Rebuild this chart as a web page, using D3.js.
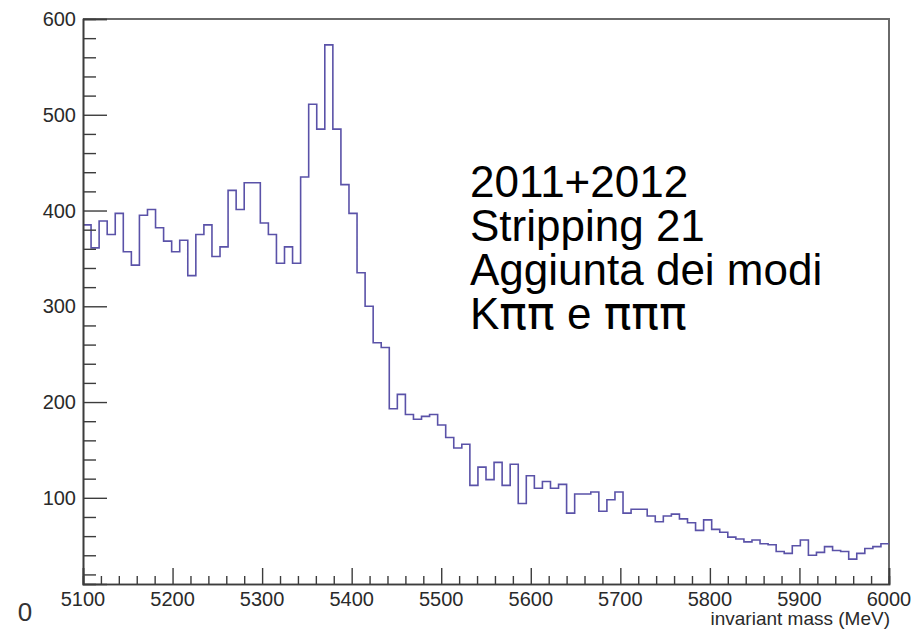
<!DOCTYPE html>
<html>
<head>
<meta charset="utf-8">
<script src="https://cdn.jsdelivr.net/npm/d3@7"></script>
<style>
  html, body { margin: 0; padding: 0; background: #fff; }
  svg { display: block; }
  text { font-family: "Liberation Sans", Arial, Helvetica, sans-serif; }
</style>
</head>
<body>
<svg id="chart" width="922" height="637"></svg>
<script>
// Histogram: 100 bins of 9 MeV from 5100 to 6000 MeV
const binLow = 5100;
const binHigh = 6000;
const counts = [
  385, 361, 389, 375, 397, 357, 343, 395, 401, 382,
  368, 357, 369, 332, 375, 385, 352, 362, 421, 401,
  429, 429, 387, 375, 345, 362, 345, 435, 511, 485,
  573, 485, 427, 397, 335, 300, 262, 257, 193, 208,
  187, 182, 185, 187, 176, 163, 152, 156, 113, 132,
  119, 137, 113, 135, 94, 123, 110, 117, 110, 114,
  84, 104, 104, 106, 86, 98, 106, 84, 88, 88,
  81, 75, 81, 83, 78, 74, 66, 77, 67, 64,
  59, 57, 54, 56, 52, 51, 44, 42, 50, 56,
  40, 43, 49, 45, 44, 36, 42, 47, 49, 52
];

const xMajorTicks = [5100, 5200, 5300, 5400, 5500, 5600, 5700, 5800, 5900, 6000];
const yMajorTicks = [100, 200, 300, 400, 500, 600];
const yRange = [10, 600];

const annotation = ["2011+2012", "Stripping 21", "Aggiunta dei modi", "Kππ e πππ"];
const xTitle = "invariant mass (MeV)";

const svg = d3.select("#chart");
const frame = { left: 83, right: 889, top: 19, bottom: 584 };

const x = d3.scaleLinear().domain([binLow, binHigh]).range([frame.left, frame.right]);
const y = d3.scaleLinear().domain(yRange).range([frame.bottom, frame.top]);

const binWidth = (binHigh - binLow) / counts.length;

// Frame: top and right edges
svg.append("path")
  .attr("d", `M${frame.left},${frame.top}H${frame.right}V${frame.bottom}`)
  .attr("fill", "none")
  .attr("stroke", "#6a6a6a")
  .attr("stroke-width", 2);

// Step outline of the histogram
const pts = counts.map((c, i) => [binLow + i * binWidth, c]);
pts.push([binHigh, counts[counts.length - 1]]);
const stepLine = d3.line()
  .x(d => x(d[0]))
  .y(d => y(d[1]))
  .curve(d3.curveStepAfter);

svg.append("path")
  .datum(pts)
  .attr("d", stepLine)
  .attr("fill", "none")
  .attr("stroke", "#5a52a8")
  .attr("stroke-width", 1.6);

// X axis: major ticks every 100, minor every 20
const xMinor = d3.range(binLow, binHigh + 1, 20).filter(v => !xMajorTicks.includes(v));
const xAxisMajor = d3.axisTop(x).tickValues(xMajorTicks).tickSize(16).tickFormat("");
const xAxisMinor = d3.axisTop(x).tickValues(xMinor).tickSize(8).tickFormat("");

const gx = svg.append("g").attr("transform", `translate(0,${frame.bottom})`);
gx.append("g").call(xAxisMinor);
gx.append("g").call(xAxisMajor);
gx.selectAll(".domain").attr("stroke", "#3c3c3c").attr("stroke-width", 1.6);
gx.selectAll(".tick line").attr("stroke", "#3c3c3c").attr("stroke-width", 1.4);

svg.append("g").selectAll("text")
  .data(xMajorTicks)
  .join("text")
  .attr("x", d => x(d))
  .attr("y", 606)
  .attr("text-anchor", "middle")
  .attr("font-size", 20)
  .attr("fill", "#2a2a2a")
  .text(d => d);

// Y axis: major ticks every 100, minor every 20
const yMinor = d3.range(20, 600, 20).filter(v => !yMajorTicks.includes(v));
const yAxisMajor = d3.axisRight(y).tickValues(yMajorTicks).tickSize(24).tickFormat("");
const yAxisMinor = d3.axisRight(y).tickValues(yMinor).tickSize(13).tickFormat("");

const gy = svg.append("g").attr("transform", `translate(${frame.left},0)`);
gy.append("g").call(yAxisMinor);
gy.append("g").call(yAxisMajor);
gy.selectAll(".domain").attr("stroke", "#3c3c3c").attr("stroke-width", 1.6);
gy.selectAll(".tick line").attr("stroke", "#3c3c3c").attr("stroke-width", 1.4);

svg.append("g").selectAll("text")
  .data(yMajorTicks)
  .join("text")
  .attr("x", 76)
  .attr("y", d => y(d) + 7)
  .attr("text-anchor", "end")
  .attr("font-size", 20)
  .attr("fill", "#2a2a2a")
  .text(d => d);

// Stray zero at the origin corner
svg.append("text")
  .attr("x", 25)
  .attr("y", 621)
  .attr("text-anchor", "middle")
  .attr("font-family", "'Liberation Serif', 'Times New Roman', serif")
  .attr("font-size", 26)
  .attr("fill", "#333")
  .text("0");

// Axis title
svg.append("text")
  .attr("x", 890)
  .attr("y", 625)
  .attr("text-anchor", "end")
  .attr("font-size", 19)
  .attr("fill", "#2a2a2a")
  .text(xTitle);

// Annotation block; Greek letters set in an upright face
const lines = svg.append("g").selectAll("text")
  .data(annotation)
  .join("text")
  .attr("x", 470)
  .attr("y", (d, i) => 197 + i * 44)
  .attr("font-size", 44)
  .attr("fill", "#000");

lines.each(function (d) {
  const runs = d.match(/π+|[^π]+/g);
  d3.select(this).selectAll("tspan")
    .data(runs)
    .join("tspan")
    .attr("font-family", r => r[0] === "π" ? "'DejaVu Sans', sans-serif" : null)
    .attr("font-size", r => r[0] === "π" ? 46 : null)
    .text(r => r);
});
</script>
</body>
</html>
